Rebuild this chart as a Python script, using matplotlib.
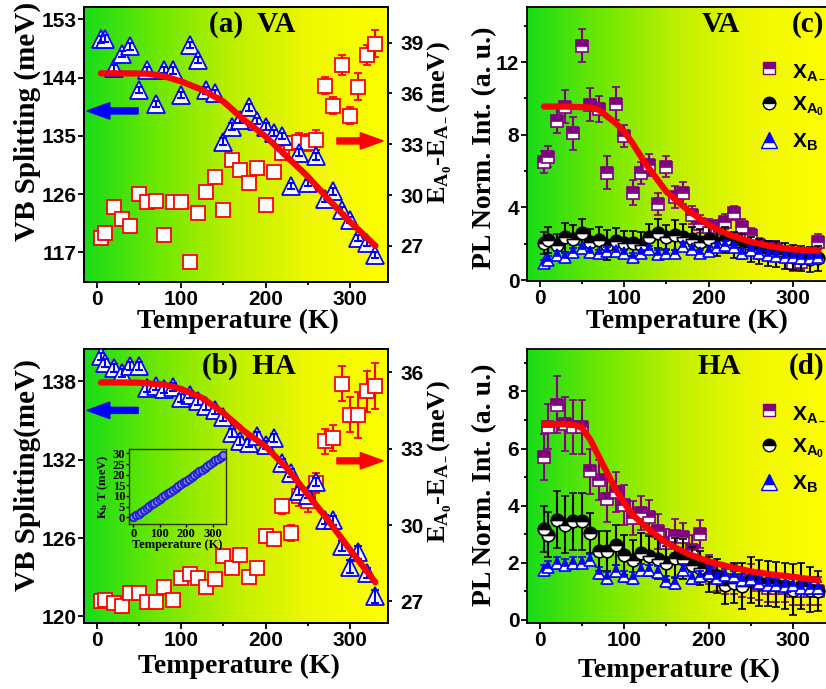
import numpy as np
import matplotlib
matplotlib.use('Agg')
import matplotlib.pyplot as plt
from matplotlib.colors import LinearSegmentedColormap
from matplotlib.lines import Line2D
from matplotlib.ticker import MultipleLocator

## Fonts: sans bold for ticks, serif bold for labels
plt.rcParams['font.family'] = 'Liberation Sans'
plt.rcParams['font.weight'] = 'bold'
plt.rcParams['mathtext.fontset'] = 'custom'
plt.rcParams['mathtext.rm'] = 'Liberation Serif:bold'
plt.rcParams['mathtext.it'] = 'Liberation Serif:bold'
plt.rcParams['mathtext.bf'] = 'Liberation Serif:bold'
plt.rcParams['mathtext.sf'] = 'Liberation Sans:bold'
plt.rcParams['axes.linewidth'] = 1.3

## Data
temp = [5, 10, 20, 30, 40, 50, 60, 70, 80, 90,
        100, 110, 120, 130, 140, 150, 160, 170, 180, 190,
        200, 210, 220, 230, 240, 250, 260, 270, 280, 290,
        300, 310, 320, 330]

# (a) VA: VB splitting (left) and E_A0 - E_A- (right)
a_vb = [149.9, 150.0, 145.4, 147.6, 148.8, 142.1, 145.1, 139.9, 145.2, 145.1,
        141.3, 149.0, 146.7, 142.0, 141.6, 134.1, 136.4, 137.5, 139.4, 137.3,
        136.4, 135.4, 135.0, 127.2, 132.4, 127.7, 131.8, 125.2, 126.4, 123.5,
        122.0, 119.2, 118.4, 116.6]
a_vb_err = [0.5, 0.5, 0.5, 0.5, 0.5, 0.5, 0.5, 0.5, 0.5, 0.5,
            0.5, 0.5, 0.5, 0.5, 0.5, 0.5, 0.5, 0.5, 0.5, 0.5,
            0.5, 0.5, 0.5, 0.5, 0.5, 0.5, 0.5, 0.5, 0.5, 0.5,
            0.5, 0.5, 0.5, 0.5]
a_diff = [27.45, 27.75, 29.28, 28.58, 28.18, 30.07, 29.6, 29.64, 27.63, 29.6,
          29.6, 26.07, 28.93, 30.2, 31.09, 29.13, 32.08, 31.49, 30.7, 31.59,
          29.42, 31.39, 32.47, 33.06, 33.16, 33.1, 33.26, 36.45, 35.26, 37.68,
          34.67, 36.4, 38.27, 38.92]
a_diff_err = [0.1, 0.15, 0.15, 0.15, 0.15, 0.2, 0.15, 0.15, 0.3, 0.15,
              0.15, 0.15, 0.15, 0.15, 0.2, 0.2, 0.3, 0.2, 0.15, 0.2,
              0.35, 0.3, 0.3, 0.4, 0.5, 0.5, 0.6, 0.5, 0.5, 0.6,
              0.5, 0.8, 0.6, 0.8]
a_fit_t = [5, 30, 60, 80, 100, 125, 150, 175, 200, 225, 250, 275, 300, 330]
a_fit = [144.65, 144.65, 144.6, 144.2, 143.4, 142.1, 140.3, 137.4, 134.9,
         131.8, 128.7, 125.1, 121.7, 118.0]

# (b) HA
b_vb = [139.91, 139.41, 139.03, 138.64, 139.15, 139.15, 137.49, 137.62, 137.42, 137.57,
        136.73, 136.99, 136.47, 136.09, 135.83, 135.27, 134.05, 133.41, 133.28, 133.84,
        133.15, 133.67, 131.75, 130.99, 129.58, 129.33, 130.27, 127.41, 127.36, 125.37,
        123.79, 124.91, 123.33, 121.54]
b_vb_err = [0.3, 0.3, 0.3, 0.3, 0.3, 0.3, 0.3, 0.3, 0.3, 0.3,
            0.3, 0.3, 0.3, 0.3, 0.3, 0.3, 0.3, 0.3, 0.3, 0.3,
            0.3, 0.3, 0.3, 0.3, 0.3, 0.3, 0.3, 0.35, 0.35, 0.4,
            0.5, 0.5, 0.4, 0.5]
b_diff = [27.0, 27.04, 26.94, 26.83, 27.33, 27.31, 26.96, 26.96, 27.56, 27.07,
          27.92, 28.08, 27.92, 27.56, 27.88, 28.77, 28.31, 28.83, 27.96, 28.31,
          29.58, 29.45, 30.73, 29.69, 31.15, 30.93, 31.65, 33.29, 33.42, 35.56,
          34.34, 34.34, 35.25, 35.48]
b_diff_err = [0.1, 0.1, 0.1, 0.1, 0.1, 0.1, 0.1, 0.1, 0.1, 0.1,
              0.1, 0.1, 0.1, 0.1, 0.1, 0.15, 0.15, 0.15, 0.15, 0.15,
              0.2, 0.2, 0.3, 0.3, 0.4, 0.4, 0.4, 0.5, 0.5, 0.7,
              0.7, 0.9, 0.8, 0.9]
b_fit_t = [5, 30, 50, 80, 100, 125, 150, 175, 200, 225, 250, 275, 300, 330]
b_fit = [137.92, 137.92, 137.9, 137.75, 137.42, 136.73, 135.58, 134.17, 133.02,
         131.37, 129.33, 127.28, 125.11, 122.61]

# Inset: k_B T
ins_t = [0, 10, 20, 30, 40, 50, 60, 70, 80, 90, 100, 110, 120, 130, 140, 150, 160,
         170, 180, 190, 200, 210, 220, 230, 240, 250, 260, 270, 280, 290, 300,
         310, 320, 330, 340]
ins_kt = [0.0, 0.86, 1.72, 2.59, 3.45, 4.31, 5.17, 6.03, 6.89, 7.76, 8.62, 9.48,
          10.34, 11.2, 12.06, 12.93, 13.79, 14.65, 15.51, 16.37, 17.23, 18.1,
          18.96, 19.82, 20.68, 21.54, 22.4, 23.27, 24.13, 24.99, 25.85, 26.71,
          27.57, 28.44, 29.3]

# (c) VA PL intensities
c_xa = [6.52, 6.8, 8.78, 9.55, 8.08, 12.9, 9.65, 9.41, 5.91, 9.70,
        7.94, 4.81, 5.91, 6.34, 4.19, 6.25, 4.59, 4.81, 3.58, 3.09,
        2.94, 2.9, 3.21, 3.68, 2.94, 2.48, 1.93, 1.75, 1.7, 1.47,
        0.92, 1.01, 1.29, 2.11]
c_xa_err = [0.6, 0.6, 0.7, 0.9, 0.9, 0.9, 0.9, 0.7, 0.9, 0.9,
            0.6, 0.7, 0.6, 0.6, 0.6, 0.6, 0.6, 0.6, 0.5, 0.5,
            0.4, 0.4, 0.4, 0.4, 0.4, 0.4, 0.4, 0.4, 0.4, 0.4,
            0.4, 0.4, 0.4, 0.4]
c_x0 = [2.06, 2.2, 1.93, 2.35, 2.24, 2.57, 2.11, 2.2, 1.93, 2.17,
        2.02, 2.02, 1.93, 2.39, 2.57, 2.35, 2.48, 2.39, 2.24, 2.11,
        2.24, 2.02, 2.2, 1.93, 1.84, 1.69, 1.56, 1.47, 1.43, 1.32,
        1.25, 1.19, 1.14, 1.19]
c_x0_err = [0.6, 0.7, 0.6, 0.8, 0.8, 0.8, 0.7, 0.7, 0.8, 0.7,
            0.7, 0.7, 0.7, 0.7, 0.8, 0.7, 0.8, 0.7, 0.7, 0.7,
            0.7, 0.7, 0.7, 0.7, 0.7, 0.7, 0.7, 0.7, 0.7, 0.7,
            0.7, 0.7, 0.7, 0.7]
c_xb = [0.92, 1.1, 1.38, 1.29, 1.56, 1.75, 1.56, 1.47, 1.62, 1.62,
        1.47, 1.29, 1.47, 1.69, 1.43, 1.5, 1.47, 1.87, 1.69, 1.47,
        1.62, 1.84, 1.93, 1.8, 1.5, 1.65, 1.47, 1.38, 1.32, 1.25,
        1.29, 1.19, 1.19, 1.25]
c_xb_err = [0.2, 0.2, 0.2, 0.2, 0.2, 0.2, 0.2, 0.2, 0.2, 0.2,
            0.2, 0.2, 0.2, 0.2, 0.2, 0.2, 0.2, 0.2, 0.2, 0.2,
            0.2, 0.2, 0.2, 0.2, 0.2, 0.2, 0.2, 0.2, 0.2, 0.2,
            0.2, 0.2, 0.2, 0.2]
c_fit_t = [5, 30, 60, 70, 90, 100, 110, 125, 150, 175, 200, 225, 250, 275, 300, 330]
c_fit = [9.55, 9.55, 9.5, 9.37, 8.64, 8.18, 7.53, 6.43, 4.87, 3.86, 3.03,
         2.48, 2.11, 1.84, 1.69, 1.62]

# (d) HA PL intensities
d_xa = [5.7, 6.77, 7.53, 6.87, 6.75, 6.75, 5.2, 4.88, 4.23, 4.46,
        4.03, 3.56, 3.74, 3.6, 3.09, 2.69, 2.94, 2.9, 2.45, 3.01,
        1.75, 1.5, 1.4, 1.4, 1.3, 1.35, 1.2, 1.1, 1.1, 1.1,
        1.0, 1.0, 1.0, 1.0]
d_xa_err = [0.8, 0.8, 1.0, 0.95, 0.95, 0.95, 0.8, 0.7, 0.8, 0.7,
            0.7, 0.6, 0.6, 0.6, 0.6, 0.5, 0.6, 0.5, 0.5, 0.5,
            0.5, 0.5, 0.5, 0.5, 0.5, 0.6, 0.5, 0.5, 0.5, 0.5,
            0.5, 0.5, 0.5, 0.5]
d_x0 = [3.18, 2.98, 3.5, 3.33, 3.44, 3.44, 3.04, 2.39, 2.39, 2.63,
        2.28, 2.1, 2.34, 2.22, 2.13, 1.99, 2.16, 2.13, 1.93, 1.81,
        1.58, 1.52, 1.23, 1.29, 1.17, 1.38, 1.29, 1.27, 1.23, 1.17,
        1.05, 1.17, 1.05, 1.0]
d_x0_err = [0.8, 0.8, 1.0, 1.0, 1.0, 1.0, 0.7, 0.7, 0.7, 0.7,
            0.7, 0.7, 0.7, 0.7, 0.7, 0.6, 0.7, 0.7, 0.6, 0.6,
            0.6, 0.6, 0.7, 0.7, 0.8, 0.8, 0.8, 0.8, 0.8, 0.8,
            0.9, 0.8, 0.8, 0.7]
d_xb = [1.73, 1.85, 2.0, 1.93, 2.0, 2.0, 2.1, 1.64, 1.46, 1.7,
        1.52, 1.46, 1.75, 1.73, 1.67, 1.34, 1.29, 1.75, 1.46, 1.52,
        1.64, 1.46, 1.58, 1.52, 1.4, 1.43, 1.29, 1.23, 1.23, 1.17,
        1.23, 1.11, 1.11, 1.11]
d_xb_err = [0.2, 0.2, 0.2, 0.2, 0.2, 0.2, 0.2, 0.2, 0.2, 0.2,
            0.2, 0.2, 0.2, 0.2, 0.2, 0.2, 0.2, 0.2, 0.2, 0.2,
            0.2, 0.2, 0.2, 0.2, 0.2, 0.2, 0.2, 0.2, 0.2, 0.2,
            0.2, 0.2, 0.2, 0.2]
d_fit_t = [5, 40, 50, 60, 70, 80, 90, 100, 110, 125, 150, 175, 200, 225, 250,
           275, 300, 330]
d_fit = [6.87, 6.84, 6.72, 6.31, 5.72, 5.14, 4.56, 4.09, 3.68, 3.27, 2.69,
         2.31, 2.04, 1.85, 1.69, 1.58, 1.5, 1.38]

## Figure setup
W, H = 826, 689
fig = plt.figure(figsize=(W / 100, H / 100), dpi=100)

def rect(l, t, r, b):
    return [l / W, 1 - b / H, (r - l) / W, (b - t) / H]

bg_cmap = LinearSegmentedColormap.from_list(
    'gy', [(0.0, '#18dc18'), (0.25, '#70e800'), (0.5, '#c0f000'),
           (0.75, '#f0f800'), (1.0, '#ffff00')])
grad = np.linspace(0, 1, 256).reshape(1, -1)

def make_panel(box):
    bg = fig.add_axes(rect(*box), zorder=-1)
    bg.imshow(grad, cmap=bg_cmap, aspect='auto', extent=[0, 1, 0, 1])
    bg.axis('off')
    ax = fig.add_axes(rect(*box), zorder=1)
    ax.patch.set_visible(False)
    ax.set_xlim(-15, 345)
    ax.set_xticks([0, 100, 200, 300])
    ax.xaxis.set_minor_locator(MultipleLocator(50))
    ax.tick_params(which='both', direction='out', width=1.3, labelsize=15)
    ax.tick_params(which='major', length=4)
    ax.tick_params(which='minor', length=2.5)
    ax.tick_params(axis='y', pad=1.5)
    ax.tick_params(axis='x', pad=2)
    return ax

def big_arrow(ax, x, y, dx, color):
    ax.arrow(x, y, dx, 0, transform=ax.transAxes, width=0.022, head_width=0.06,
             head_length=0.075, length_includes_head=True, color=color,
             zorder=6, clip_on=False)

def vb_panel(box, vb, vb_err, diff, diff_err, fit_t, fit, ylim, y2lim,
             yticks, y2ticks, arrow_y):
    ax = make_panel(box)
    ax2 = ax.twinx()
    ax2.set_zorder(0.5)
    # open triangles with the error bars drawn over them
    ax.plot(temp, vb, ls='none', marker='^', ms=13, mfc='white',
            mec='blue', mew=1.3, zorder=3)
    ax.errorbar(temp, vb, yerr=vb_err, fmt='none', ecolor='blue', elinewidth=1.5,
                capsize=3, capthick=1.5, zorder=4)
    ax.plot(fit_t, fit, color='red', lw=4.5, solid_capstyle='round', zorder=5)
    ax2.errorbar(temp, diff, yerr=diff_err, fmt='s', ms=9.5, mfc='white', mec='red',
                 mew=1.3, ecolor='red', elinewidth=1.5, capsize=3, capthick=1.5)
    ax.set_ylim(*ylim)
    ax2.set_ylim(*y2lim)
    ax.set_yticks(yticks)
    ax2.set_yticks(y2ticks)
    ax2.tick_params(direction='out', length=3, width=1.3, labelsize=15, pad=6)
    big_arrow(ax, 0.178, arrow_y[0], -0.168, 'blue')
    big_arrow(ax, 0.832, arrow_y[1], 0.152, 'red')
    return ax

def pl_panel(box, xa, xa_err, x0, x0_err, xb, xb_err, fit_t, fit, ylim, yticks, minor):
    ax = make_panel(box)
    eb = dict(elinewidth=1.5, capsize=3, capthick=1.5)
    ax.errorbar(temp, xa, yerr=xa_err, fmt='s', ms=9, mfc='purple',
                markerfacecoloralt='white', fillstyle='top', mec='purple', mew=1.2,
                ecolor='purple', zorder=2, **eb)
    ax.errorbar(temp, x0, yerr=x0_err, fmt='o', ms=9, mfc='black',
                markerfacecoloralt='white', fillstyle='top', mec='black', mew=1.2,
                ecolor='black', zorder=3, **eb)
    ax.errorbar(temp, xb, yerr=xb_err, fmt='^', ms=8, mfc='blue',
                markerfacecoloralt='white', fillstyle='top', mec='blue', mew=1.2,
                ecolor='blue', zorder=4, **eb)
    ax.plot(fit_t, fit, color='red', lw=4.5, solid_capstyle='round', zorder=5)
    ax.set_ylim(*ylim)
    ax.set_yticks(yticks)
    ax.yaxis.set_minor_locator(MultipleLocator(minor))
    handles = [
        Line2D([], [], ls='none', marker='s', ms=8, mfc='purple',
               markerfacecoloralt='white', fillstyle='top', mec='purple'),
        Line2D([], [], ls='none', marker='o', ms=9, mfc='black',
               markerfacecoloralt='white', fillstyle='top', mec='black'),
        Line2D([], [], ls='none', marker='^', ms=11, mfc='blue',
               markerfacecoloralt='white', fillstyle='top', mec='blue')]
    labels = [r'$\mathsf{X_{A_-}}$', r'$\mathsf{X_{A_0}}$', r'$\mathsf{X_B}$']
    ax.legend(handles, labels, loc='upper left', bbox_to_anchor=(0.762, 0.805),
              frameon=False, prop={'size': 15}, handlelength=1.0,
              handletextpad=0.6, borderpad=0, borderaxespad=0, labelspacing=0.65)
    return ax

serif = dict(fontfamily='Liberation Serif', fontweight='bold')

ax_a = vb_panel((84, 7, 388, 282), a_vb, a_vb_err, a_diff, a_diff_err, a_fit_t, a_fit,
                (112.4, 154.9), (24.87, 41.1), [117, 126, 135, 144, 153],
                [27, 30, 33, 36, 39], (0.622, 0.513))
ax_b = vb_panel((84, 349, 388, 623), b_vb, b_vb_err, b_diff, b_diff_err, b_fit_t, b_fit,
                (119.49, 140.48), (26.15, 36.92), [120, 126, 132, 138],
                [27, 30, 33, 36], (0.776, 0.592))
ax_c = pl_panel((527, 7, 831, 281), c_xa, c_xa_err, c_x0, c_x0_err, c_xb, c_xb_err,
                c_fit_t, c_fit, (-0.05, 15.03), [0, 4, 8, 12], 2)
ax_d = pl_panel((527, 349, 831, 623), d_xa, d_xa_err, d_x0, d_x0_err, d_xb, d_xb_err,
                d_fit_t, d_fit, (-0.12, 9.49), [0, 2, 4, 6, 8], 1)

# panel titles
ax_a.text(0.553, 0.935, '(a)  VA', transform=ax_a.transAxes, ha='center', va='center',
          fontsize=21, zorder=7, **serif)
ax_b.text(0.543, 0.936, '(b)  HA', transform=ax_b.transAxes, ha='center', va='center',
          fontsize=21, zorder=7, **serif)
ax_c.text(0.639, 0.935, 'VA', transform=ax_c.transAxes, ha='center', va='center',
          fontsize=21, **serif)
ax_c.text(0.925, 0.935, '(c)', transform=ax_c.transAxes, ha='center', va='center',
          fontsize=21, **serif)
ax_d.text(0.631, 0.936, 'HA', transform=ax_d.transAxes, ha='center', va='center',
          fontsize=21, **serif)
ax_d.text(0.92, 0.936, '(d)', transform=ax_d.transAxes, ha='center', va='center',
          fontsize=21, **serif)

# axis labels (figure pixel positions)
def ftext(x, y, s, size, rot=0):
    fig.text(x / W, 1 - y / H, s, ha='center', va='center', rotation=rot,
             fontsize=size, **serif)

for x, y in [(238, 321), (239, 666), (687, 321), (679, 670)]:
    ftext(x, y, 'Temperature (K)', 20)
ftext(27, 121, 'VB Splitting (meV)', 21, 90)
ftext(27, 475, 'VB Splitting(meV)', 21, 90)
e_label = r'$\mathbf{E_{A_0}}$-$\mathbf{E_{A_-}}$(meV)'
ftext(440, 123, e_label, 19, 90)
ftext(440, 462, e_label, 19, 90)
ftext(485, 148, 'PL Norm. Int. (a. u.)', 20, 90)
ftext(485, 485, 'PL Norm. Int. (a. u.)', 20, 90)

## Inset k_B T vs T
ins = fig.add_axes(rect(129.3, 449.3, 225.7, 524.3), zorder=3)
ins.patch.set_visible(False)
ins.plot(ins_t, ins_kt, ls='none', marker='o', ms=5.5, mfc='#8080ff', mec='#2020cc',
         mew=1.3)
ins.set_xlim(-15, 349)
ins.set_ylim(-3.3, 31.9)
ins.set_xticks([0, 100, 200, 300])
ins.set_yticks([0, 5, 10, 15, 20, 25, 30])
ins.tick_params(direction='out', length=2, width=1, labelsize=9, pad=1,
                labelfontfamily='Liberation Serif')
for s in ins.spines.values():
    s.set_linewidth(1)
    s.set_color('#333300')
ins.set_xlabel('Temperature (K)', fontsize=9, labelpad=-1, **serif)
ins.set_ylabel(r'K$_\mathrm{b}$ T (meV)', fontsize=9, labelpad=1, **serif)

fig.savefig('out.png', dpi=100)
